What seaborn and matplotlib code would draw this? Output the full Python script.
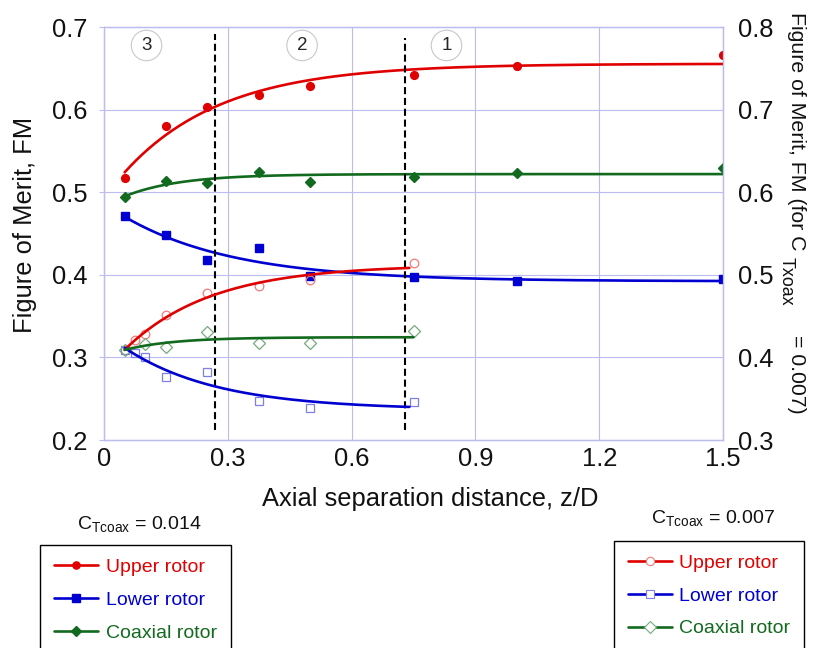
import numpy as np
import pandas as pd
import matplotlib
matplotlib.use("Agg")
import matplotlib.pyplot as plt
from matplotlib.lines import Line2D
import seaborn as sns

# ---- measured figure of merit vs. axial separation ----
# C_Tcoax = 0.014 (left axis)
z_high = [0.05, 0.15, 0.25, 0.375, 0.5, 0.75, 1.0, 1.5]
fm_upper_high = [0.518, 0.580, 0.604, 0.618, 0.629, 0.642, 0.653, 0.666]
fm_lower_high = [0.471, 0.448, 0.418, 0.4325, 0.399, 0.398, 0.3925, 0.3945]
fm_coax_high = [0.494, 0.514, 0.511, 0.525, 0.513, 0.519, 0.523, 0.529]

# C_Txoax = 0.007 (right axis)
z_upper_low = [0.05, 0.075, 0.1, 0.15, 0.25, 0.375, 0.5, 0.75]
fm_upper_low = [0.409, 0.421, 0.428, 0.452, 0.478, 0.486, 0.494, 0.514]
z_lower_low = [0.05, 0.075, 0.1, 0.15, 0.25, 0.375, 0.5, 0.75]
fm_lower_low = [0.409, 0.405, 0.401, 0.376, 0.382, 0.347, 0.339, 0.346]
z_coax_low = [0.05, 0.1, 0.15, 0.25, 0.375, 0.5, 0.75]
fm_coax_low = [0.409, 0.416, 0.413, 0.431, 0.417, 0.417, 0.432]

# wake-interaction regions and their boundaries
region_bounds = [0.27, 0.73]
region_labels = ["3", "2", "1"]
region_label_x = [0.103, 0.48, 0.83]

x_ticks = [0, 0.3, 0.6, 0.9, 1.2, 1.5]
y_ticks_left = [0.2, 0.3, 0.4, 0.5, 0.6, 0.7]
y_ticks_right = [0.3, 0.4, 0.5, 0.6, 0.7, 0.8]

RED, BLUE, GREEN = "#e00000", "#0000d0", "#126a1f"
RED_L, BLUE_L, GREEN_L = "#f07a7a", "#7f7fe6", "#74ab7c"
GRID = "#bcbcf0"


def saturating_fit(x, y, x_new):
    """Least-squares fit of y = a + b*exp(-c*x), evaluated on x_new."""
    x = np.asarray(x, float)
    y = np.asarray(y, float)
    best = None
    for c in np.linspace(0.3, 25, 800):
        A = np.column_stack([np.ones_like(x), np.exp(-c * x)])
        coef, *_ = np.linalg.lstsq(A, y, rcond=None)
        sse = np.sum((A @ coef - y) ** 2)
        if best is None or sse < best[0]:
            best = (sse, c, coef)
    _, c, (a, b) = best
    return a + b * np.exp(-c * x_new)


sns.set_theme(style="white")
plt.rcParams["font.family"] = ["Liberation Sans", "DejaVu Sans"]
plt.rcParams["mathtext.fontset"] = "custom"
plt.rcParams["mathtext.rm"] = "Liberation Sans"
plt.rcParams["mathtext.it"] = "Liberation Sans"
plt.rcParams["lines.scale_dashes"] = True

W, H = 813, 648
fig = plt.figure(figsize=(W / 100, H / 100), dpi=100)
ax = fig.add_axes([104 / W, 1 - 440 / H, 619 / W, 412.7 / H])
ax2 = ax.twinx()

FS = 18.4
ax.set_xlim(0, 1.5)
ax.set_ylim(0.2, 0.7)
ax2.set_ylim(0.3, 0.8)
ax.set_xticks(x_ticks)
ax.set_xticklabels(["0", "0.3", "0.6", "0.9", "1.2", "1.5"])
ax.set_yticks(y_ticks_left)
ax.set_yticklabels([f"{v:.1f}" for v in y_ticks_left])
ax2.set_yticks(y_ticks_right)
ax2.set_yticklabels([f"{v:.1f}" for v in y_ticks_right])

ax.grid(True, color=GRID, linewidth=0.8)
ax.set_axisbelow(True)
for a in (ax, ax2):
    for sp in a.spines.values():
        sp.set_color(GRID)
        sp.set_linewidth(0.9)
ax.tick_params(axis="x", length=0, pad=5, labelsize=FS, colors="#111111")
ax.tick_params(axis="y", length=3.5, width=0.8, color=GRID, pad=8.5,
               labelsize=FS, labelcolor="#111111", left=True)
ax2.tick_params(axis="y", length=0, pad=11, labelsize=FS, labelcolor="#111111")

# fitted trend curves
zf = np.linspace(0.05, 1.5, 300)
zl = np.linspace(0.05, 0.74, 200)
zc = np.linspace(0.05, 0.75, 200)
curves = [
    (ax, zf, saturating_fit(z_high, fm_upper_high, zf), RED),
    (ax, zf, saturating_fit(z_high, fm_lower_high, zf), BLUE),
    (ax, zf, saturating_fit(z_high, fm_coax_high, zf), GREEN),
    (ax2, zl, saturating_fit(z_upper_low, fm_upper_low, zl), RED),
    (ax2, zl, saturating_fit(z_lower_low, fm_lower_low, zl), BLUE),
    (ax2, zc, saturating_fit(z_coax_low, fm_coax_low, zc), GREEN),
]
for a, xx, yy, col in curves:
    df = pd.DataFrame({"z": xx, "fm": yy})
    sns.lineplot(data=df, x="z", y="fm", ax=a, color=col, linewidth=1.9,
                 sort=False, estimator=None, legend=False, zorder=3)

# hollow markers (C_Txoax = 0.007)
ax2.plot(z_upper_low, fm_upper_low, ls="none", marker="o", ms=6.2, mfc="none",
         mec=RED_L, mew=0.9, zorder=2)
ax2.plot(z_lower_low, fm_lower_low, ls="none", marker="s", ms=6.2, mfc="none",
         mec=BLUE_L, mew=0.9, zorder=2)
ax2.plot(z_coax_low, fm_coax_low, ls="none", marker="D", ms=6.2, mfc="none",
         mec=GREEN_L, mew=0.9, zorder=2)

# filled markers (C_Tcoax = 0.014)
ax.plot(z_high, fm_upper_high, ls="none", marker="o", ms=5.6, color=RED, zorder=4)
ax.plot(z_high, fm_lower_high, ls="none", marker="s", ms=5.6, color=BLUE, zorder=4)
ax.plot(z_high, fm_coax_high, ls="none", marker="D", ms=5.4, color=GREEN, zorder=4)

for a in (ax, ax2):
    a.set_xlabel("")
    a.set_ylabel("")

# region boundaries
ax.plot([region_bounds[0]] * 2, [0.212, 0.692], color="black", lw=1.5,
        ls=(0, (3.4, 1.8)), zorder=5)
ax.plot([region_bounds[1]] * 2, [0.212, 0.687], color="black", lw=1.5,
        ls=(0, (3.4, 1.8)), zorder=5)
for xl, lab in zip(region_label_x, region_labels):
    ax.text(xl, 0.678, lab, fontsize=13.5, ha="center", va="center", zorder=6,
            bbox=dict(boxstyle="circle,pad=0.36", fc="white", ec="#c8c8c8", lw=0.8))

# axis titles
fig.text(25 / W, 1 - 225 / H, "Figure of Merit, FM", rotation=90,
         ha="center", va="center", fontsize=FS, color="#111111")
fig.text(430 / W, 1 - 499 / H, "Axial separation distance, z/D",
         ha="center", va="center", fontsize=FS, color="#111111")

# right-axis title, set in three pieces so the subscript keeps its size
RFS = 15.3
fig.text(796 / W, 1 - 131 / H, "Figure of Merit, FM (for C", rotation=270,
         ha="center", va="center", fontsize=RFS, color="#111111")
fig.text(786 / W, 1 - 281 / H, "Txoax", rotation=270,
         ha="center", va="center", fontsize=RFS * 0.84, color="#111111")
fig.text(796 / W, 1 - 374 / H, "= 0.007)", rotation=270,
         ha="center", va="center", fontsize=RFS, color="#111111")

# legends
LFS = 14
fig.text(139 / W, 1 - 529 / H, r"$\mathregular{C_{Tcoax}}$ = 0.014",
         ha="center", va="baseline", fontsize=LFS, color="#111111")
fig.text(713 / W, 1 - 523 / H, r"$\mathregular{C_{Tcoax}}$ = 0.007",
         ha="center", va="baseline", fontsize=LFS, color="#111111")

names = ["Upper rotor", "Lower rotor", "Coaxial rotor"]
h_high = [
    Line2D([], [], color=RED, lw=1.9, marker="o", ms=5.2),
    Line2D([], [], color=BLUE, lw=1.9, marker="s", ms=5.2),
    Line2D([], [], color=GREEN, lw=1.9, marker="D", ms=4.8),
]
h_low = [
    Line2D([], [], color=RED, lw=1.9, marker="o", ms=6, mfc="white", mec=RED_L, mew=0.8),
    Line2D([], [], color=BLUE, lw=1.9, marker="s", ms=6, mfc="white", mec=BLUE_L, mew=0.8),
    Line2D([], [], color=GREEN, lw=1.9, marker="D", ms=6, mfc="white", mec=GREEN_L, mew=0.8),
]
leg_kw = dict(loc="upper left", fontsize=LFS, frameon=True, fancybox=False,
              edgecolor="black", framealpha=1, labelcolor="linecolor",
              handlelength=2.3, labelspacing=0.78, borderpad=0.7,
              borderaxespad=0, numpoints=1)
l1 = fig.legend(h_high, names, bbox_to_anchor=(40 / W, 1 - 545 / H),
                handletextpad=0.4, **leg_kw)
l2 = fig.legend(h_low, names, bbox_to_anchor=(614 / W, 1 - 540.7 / H),
                handletextpad=0.35, **leg_kw)
for l in (l1, l2):
    l.get_frame().set_linewidth(1.0)

fig.savefig("out.png", dpi=100)
